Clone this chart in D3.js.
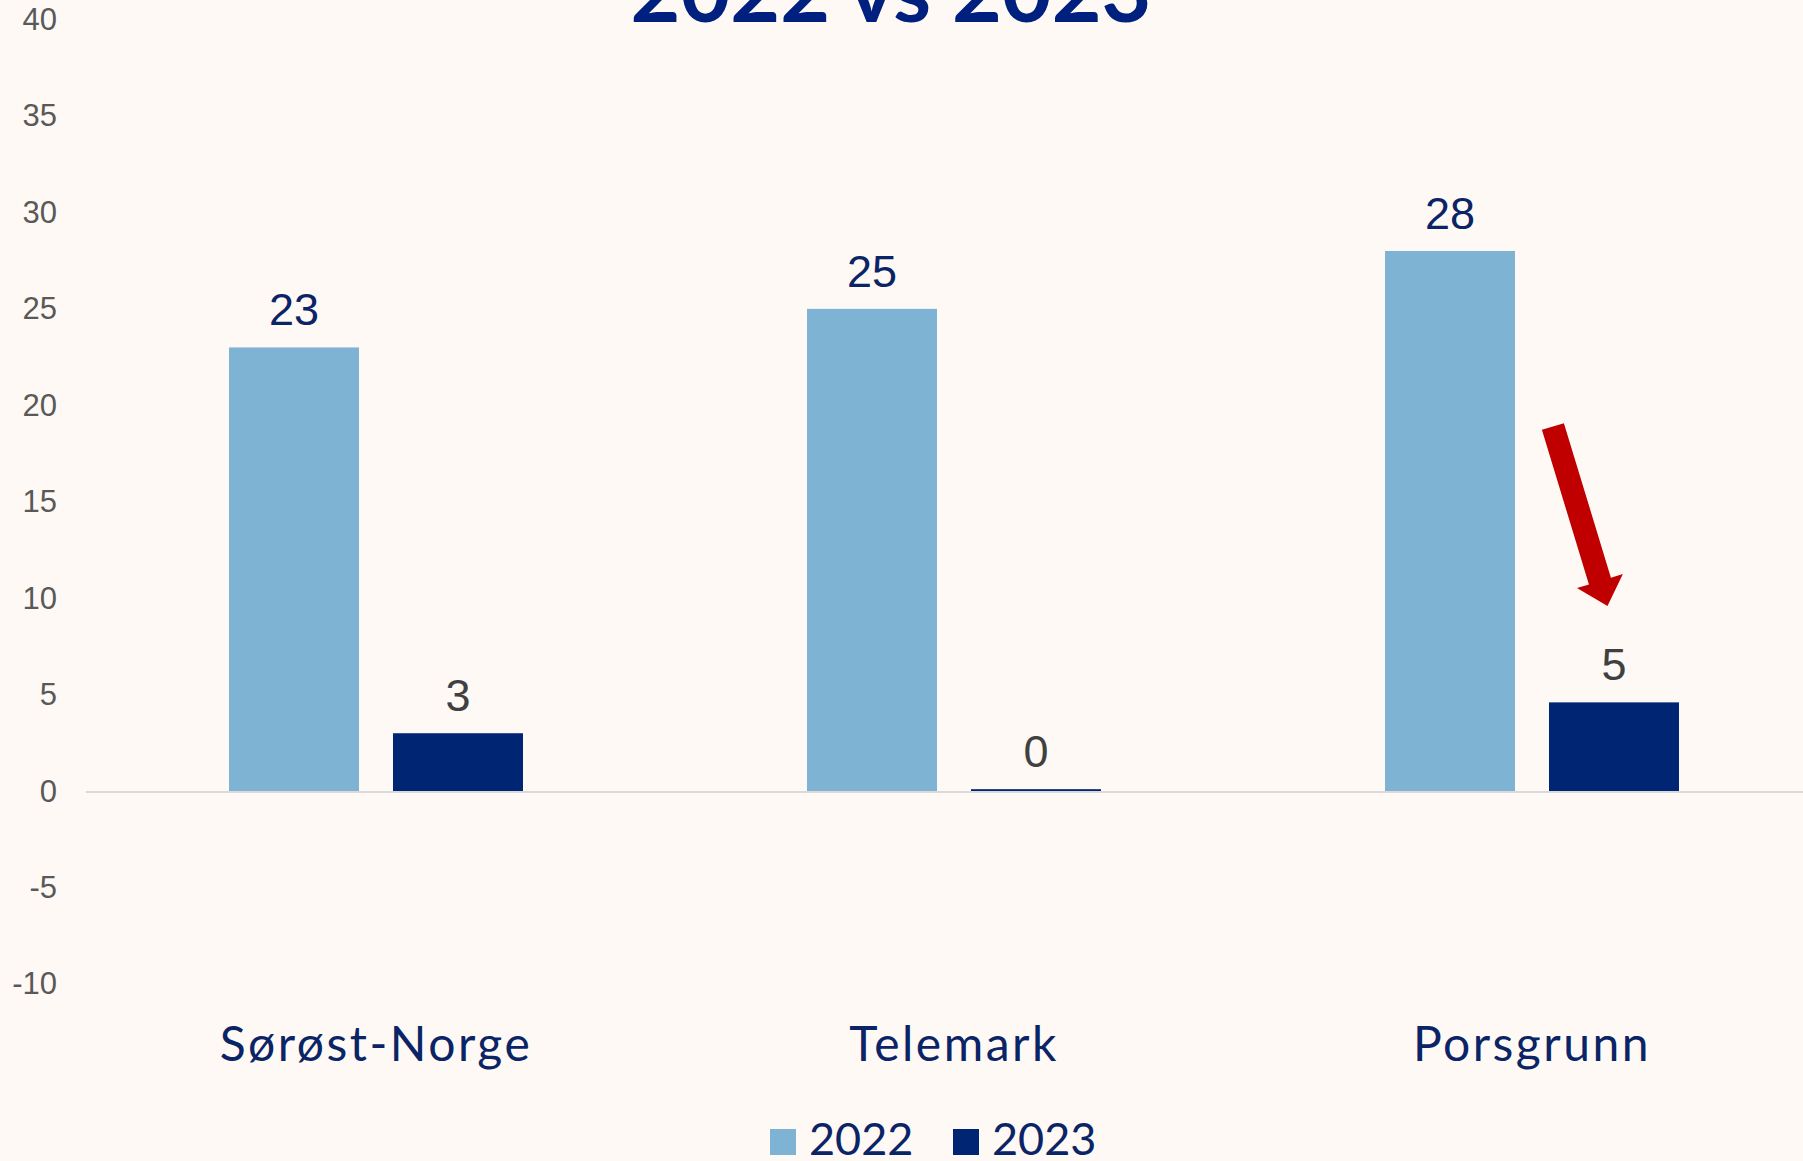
<!DOCTYPE html>
<html>
<head>
<meta charset="utf-8">
<script src="https://cdn.jsdelivr.net/npm/d3@7"></script>
<style>
  html, body { margin: 0; padding: 0; background: #fef9f5; }
  svg { display: block; }
</style>
</head>
<body>
<div class="chart"></div>
<script>
// data
var categories = ["Sørøst-Norge", "Telemark", "Porsgrunn"];
var seriesNames = ["2022", "2023"];
var values2022 = [23, 25, 28];
var values2023 = [3, 0.1, 4.6];
var yTicks = [-10, -5, 0, 5, 10, 15, 20, 25, 30, 35, 40];
var titleText = "2022 vs 2023";
// red arrow annotation over Porsgrunn 2023 (values on the y axis)
var arrowCategory = "Porsgrunn";
var arrowFromValue = 18.9;
var arrowToValue = 9.6;

var width = 1803, height = 1161;
var colors = { "2022": "#7fb3d3", "2023": "#002673" };
var labelColors = { "2022": "#0a2466", "2023": "#404040" };

var svg = d3.select(".chart").append("svg")
    .attr("width", width)
    .attr("height", height);

svg.append("rect")
    .attr("width", width)
    .attr("height", height)
    .attr("fill", "#fef9f5");

var x0 = d3.scaleBand()
    .domain(categories)
    .range([87, 1821])
    .padding(0);

var x1 = d3.scaleBand()
    .domain(seriesNames)
    .range([0, x0.bandwidth()])
    .paddingInner(0.2073)
    .paddingOuter(0.866);

var y = d3.scaleLinear()
    .domain([-10, 40])
    .range([984, 19.5]);

/*
    Title (cut off at the top edge)
*/
svg.append("text")
    .attr("x", 891)
    .attr("y", 22)
    .attr("text-anchor", "middle")
    .attr("font-family", "Lato, sans-serif")
    .attr("font-weight", "bold")
    .attr("font-size", 86)
    .attr("fill", "#00207f")
    .text(titleText);

/*
    Y axis (labels only)
*/
var yAxis = d3.axisLeft(y)
    .tickValues(yTicks)
    .tickSize(0)
    .tickPadding(0)
    .tickFormat(function (d) { return String(d); });
var yAxisG = svg.append("g")
    .attr("transform", "translate(57,0)")
    .call(yAxis);
yAxisG.select(".domain").remove();
yAxisG.selectAll("text")
    .attr("font-family", "'Liberation Sans', Arial, sans-serif")
    .attr("font-size", 31)
    .attr("fill", "#595959");

/*
    Bars
*/
var rows = categories.map(function (c, i) {
    return { category: c, values: [
        { series: "2022", value: values2022[i] },
        { series: "2023", value: values2023[i] }
    ] };
});

var groups = svg.selectAll("g.group").data(rows).enter().append("g")
    .attr("class", "group")
    .attr("transform", function (d) { return "translate(" + x0(d.category) + ",0)"; });

groups.selectAll("rect").data(function (d) { return d.values; }).enter().append("rect")
    .attr("x", function (d) { return x1(d.series); })
    .attr("y", function (d) { return y(Math.max(0, d.value)); })
    .attr("width", x1.bandwidth())
    .attr("height", function (d) { return Math.abs(y(d.value) - y(0)); })
    .attr("fill", function (d) { return colors[d.series]; });

groups.selectAll("text.value").data(function (d) { return d.values; }).enter().append("text")
    .attr("class", "value")
    .attr("x", function (d) { return x1(d.series) + x1.bandwidth() / 2; })
    .attr("y", function (d) { return y(Math.max(0, d.value)) - 22; })
    .attr("text-anchor", "middle")
    .attr("font-family", "'Liberation Sans', Arial, sans-serif")
    .attr("font-size", 45)
    .attr("fill", function (d) { return labelColors[d.series]; })
    .text(function (d) { return d3.format(".0f")(d.value); });

// zero line
svg.append("line")
    .attr("x1", x0.range()[0] - 1)
    .attr("x2", width)
    .attr("y1", y(0) + 1)
    .attr("y2", y(0) + 1)
    .attr("stroke", "#d9d9d9")
    .attr("stroke-width", 2);

/*
    Category labels
*/
var xAxis = d3.axisBottom(x0).tickSize(0).tickPadding(0);
var xAxisG = svg.append("g")
    .attr("transform", "translate(0,1061)")
    .call(xAxis);
xAxisG.select(".domain").remove();
xAxisG.selectAll("text")
    .attr("dy", 0)
    .attr("font-family", "Lato, sans-serif")
    .attr("font-size", 48)
    .attr("letter-spacing", "2.5px")
    .attr("fill", "#0a2466");

/*
    Arrow
*/
var ax = x0(arrowCategory) + x1("2023");
var tail = [ax + x1.bandwidth() * 0.03, y(arrowFromValue)];
var tip = [ax + x1.bandwidth() * 0.45, y(arrowToValue)];
var dx = tip[0] - tail[0], dy = tip[1] - tail[1];
var len = Math.sqrt(dx * dx + dy * dy);
var ux = dx / len, uy = dy / len, nx = -uy, ny = ux;
var shaftW = 23, headW = 48, headL = 26;
var bx = tip[0] - ux * headL, by = tip[1] - uy * headL;
var arrowPts = [
    [tail[0] + nx * shaftW / 2, tail[1] + ny * shaftW / 2],
    [bx + nx * shaftW / 2, by + ny * shaftW / 2],
    [bx + nx * headW / 2, by + ny * headW / 2],
    tip,
    [bx - nx * headW / 2, by - ny * headW / 2],
    [bx - nx * shaftW / 2, by - ny * shaftW / 2],
    [tail[0] - nx * shaftW / 2, tail[1] - ny * shaftW / 2]
];
svg.append("path")
    .attr("d", d3.line()(arrowPts) + "Z")
    .attr("fill", "#c00000");

/*
    Legend
*/
var legendX = [770, 953];
var legend = svg.selectAll("g.legend").data(seriesNames).enter().append("g")
    .attr("class", "legend")
    .attr("transform", function (d, i) { return "translate(" + legendX[i] + ",1129)"; });
legend.append("rect")
    .attr("width", 26)
    .attr("height", 26)
    .attr("fill", function (d) { return colors[d]; });
legend.append("text")
    .attr("x", 39)
    .attr("y", 26)
    .attr("font-family", "Lato, sans-serif")
    .attr("font-size", 45)
    .attr("fill", "#0a2466")
    .text(function (d) { return d; });
</script>
</body>
</html>
